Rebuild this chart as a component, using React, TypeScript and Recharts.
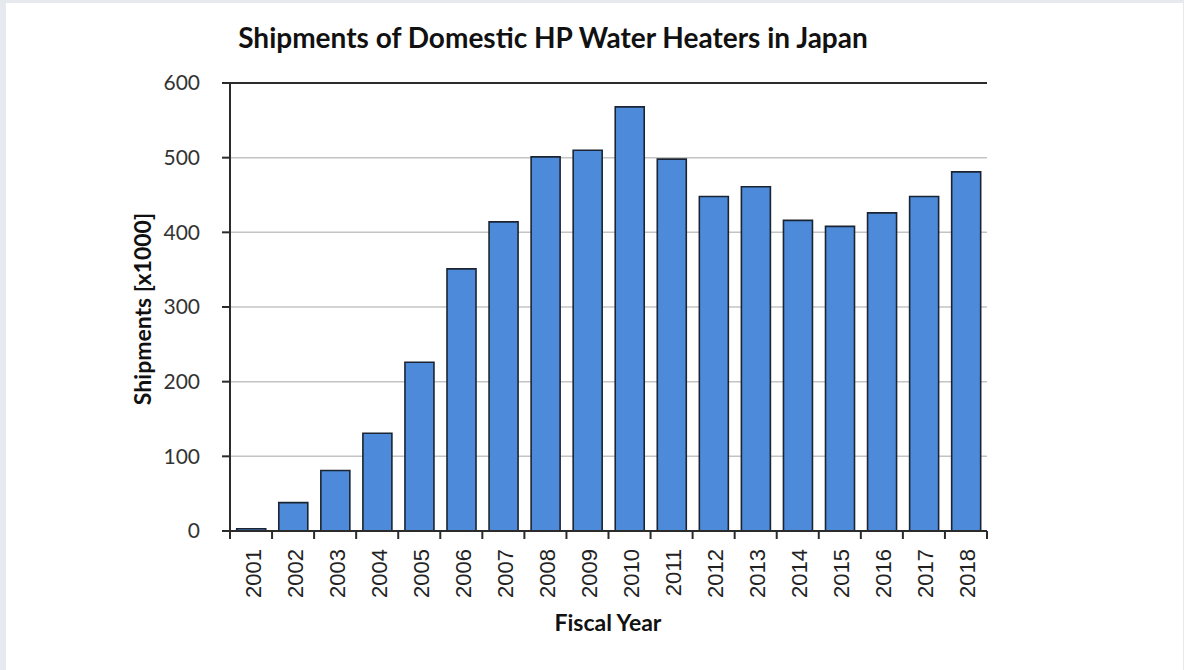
import { BarChart, Bar, XAxis, YAxis, CartesianGrid, ReferenceLine } from 'recharts'

// Fiscal years and shipments (thousand units)
const years = [
  '2001', '2002', '2003', '2004', '2005', '2006', '2007', '2008', '2009',
  '2010', '2011', '2012', '2013', '2014', '2015', '2016', '2017', '2018',
]
const shipments = [3, 38, 81, 131, 226, 351, 414, 501, 510, 568, 498, 448, 461, 416, 408, 426, 448, 481]
const yTicks = [0, 100, 200, 300, 400, 500, 600]

const data = years.map((year, i) => ({ year, shipments: shipments[i] }))

const W = 1184
const H = 670
const margin = { top: 83, right: 197, bottom: 59, left: 170 }
const band = (W - margin.left - 60 - margin.right) / years.length

const calibri = 'Lato, "Open Sans", sans-serif'
const axisColor = '#2b2b2b'

// category tick: boundary mark plus rotated year label
const YearTick = (props: any) => {
  const { x, y, payload, index } = props
  const half = band / 2
  const ly = y + 18
  return (
    <g>
      <line x1={x - half} x2={x - half} y1={y} y2={y + 8} stroke={axisColor} strokeWidth={2} />
      {index === years.length - 1 && (
        <line x1={x + half} x2={x + half} y1={y} y2={y + 8} stroke={axisColor} strokeWidth={2} />
      )}
      <text
        x={x + 2}
        y={ly}
        transform={`rotate(-90 ${x + 2} ${ly})`}
        textAnchor="end"
        dominantBaseline="central"
        fontFamily='"Liberation Sans", Arial, sans-serif'
        fontSize={22}
        fill="#222"
      >
        {payload.value}
      </text>
    </g>
  )
}

export default function App() {
  return (
    <div style={{ position: 'fixed', inset: 0, background: '#e6eaee' }}>
      <div style={{ position: 'absolute', left: 6, top: 3, right: 1, bottom: 0, background: '#fff' }} />
      <div style={{ position: 'absolute', left: 0, top: 0 }}>
        <BarChart width={W} height={H} data={data} margin={margin} barCategoryGap="16%">
          <CartesianGrid vertical={false} stroke="#c4c4c4" strokeWidth={1.5} />
          <XAxis
            dataKey="year"
            height={80}
            tickSize={0}
            tickMargin={0}
            tickLine={false}
            axisLine={{ stroke: axisColor, strokeWidth: 2 }}
            tick={<YearTick />}
            interval={0}
          />
          <YAxis
            width={60}
            domain={[0, 600]}
            ticks={yTicks}
            tickSize={8}
            tickMargin={22}
            tickLine={{ stroke: axisColor, strokeWidth: 2 }}
            axisLine={{ stroke: axisColor, strokeWidth: 2 }}
            tick={{ fontFamily: calibri, fontSize: 21, fill: '#333' }}
          />
          <YAxis
            yAxisId="frame"
            orientation="right"
            width={0}
            domain={[0, 600]}
            tick={false}
            tickLine={false}
            axisLine={{ stroke: axisColor, strokeWidth: 2 }}
          />
          <ReferenceLine y={600} stroke={axisColor} strokeWidth={2} />
          <Bar
            dataKey="shipments"
            fill="#4d8ad9"
            stroke="#1b2433"
            strokeWidth={1.6}
            isAnimationActive={false}
          />
          <text x={553} y={48} textAnchor="middle" fontFamily={calibri} fontWeight={700} fontSize={28} fill="#111">
            Shipments of Domestic HP Water Heaters in Japan
          </text>
          <text
            x={151}
            y={309}
            transform="rotate(-90 151 309)"
            textAnchor="middle"
            fontFamily={calibri}
            fontWeight={700}
            fontSize={23}
            fill="#111"
          >
            Shipments [x1000]
          </text>
          <text x={608} y={631} textAnchor="middle" fontFamily={calibri} fontWeight={700} fontSize={23} fill="#111">
            Fiscal Year
          </text>
        </BarChart>
      </div>
    </div>
  )
}
